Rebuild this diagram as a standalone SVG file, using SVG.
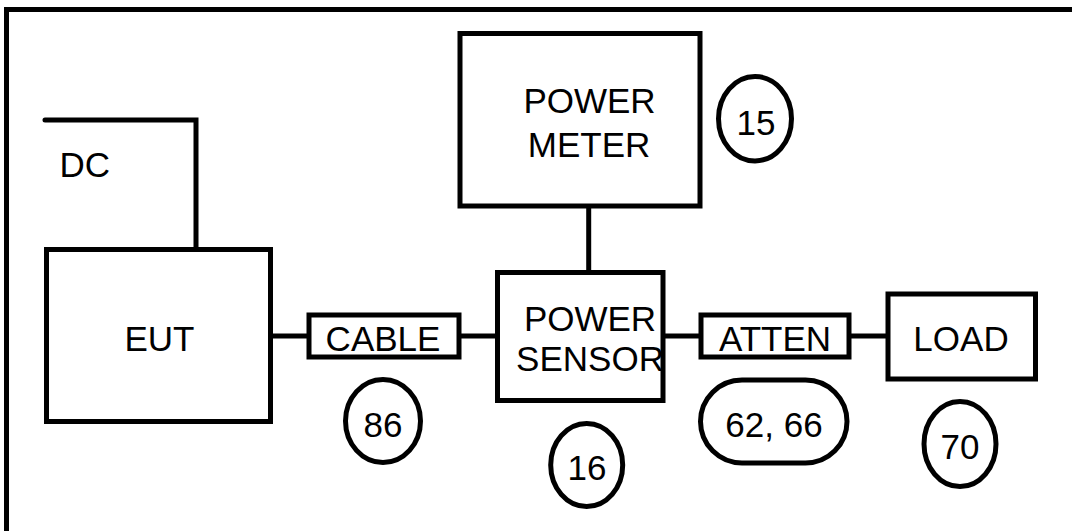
<svg xmlns="http://www.w3.org/2000/svg" width="1072" height="531" viewBox="0 0 1072 531">
<style>
.box{fill:#fff;stroke:#000;stroke-width:5}
.ln{fill:none;stroke:#000;stroke-width:5}
.t{font-family:"Liberation Sans",Arial,sans-serif;font-size:35px;fill:#000;text-anchor:middle}
</style>
<rect x="0" y="0" width="1072" height="531" fill="#fff"/>
<path class="ln" d="M6.5,540 V9.5 H1080"/>
<g id="connectors">
<path class="ln" stroke-linecap="round" d="M45,120 H196 V248"/>
<path class="ln" d="M273,336 H307"/>
<path class="ln" d="M461,336 H496"/>
<path class="ln" d="M588.7,207 V272"/>
<path class="ln" d="M664,336 H699"/>
<path class="ln" d="M851,336 H886"/>
</g>
<g id="dc"><text class="t" x="59.5" y="176.7" text-anchor="start" style="text-anchor:start">DC</text></g>
<g id="eut">
<rect class="box" x="46.5" y="249.5" width="224" height="172"/>
<text class="t" x="159.5" y="350.7">EUT</text>
</g>
<g id="cable">
<rect class="box" x="309" y="315" width="150" height="42"/>
<text class="t" x="383" y="350.7">CABLE</text>
</g>
<g id="power-meter">
<rect class="box" x="460" y="33.5" width="240" height="172.5"/>
<text class="t" x="589.5" y="113.3">POWER</text>
<text class="t" x="589" y="156.7">METER</text>
</g>
<g id="power-sensor">
<rect class="box" x="497.5" y="272.5" width="165.5" height="128"/>
<text class="t" x="590" y="330.7">POWER</text>
<text class="t" x="590" y="371">SENSOR</text>
</g>
<g id="atten">
<rect class="box" x="701" y="315" width="148" height="42"/>
<text class="t" x="775" y="350.7">ATTEN</text>
</g>
<g id="load">
<rect class="box" x="888" y="294" width="147.5" height="85"/>
<text class="t" x="961" y="350.7">LOAD</text>
</g>
<g id="ref-15">
<ellipse class="box" cx="755" cy="118.7" rx="36.5" ry="42.2"/>
<text class="t" x="756" y="135">15</text>
</g>
<g id="ref-86">
<ellipse class="box" cx="383" cy="421" rx="37.5" ry="41.5"/>
<text class="t" x="383" y="436.7">86</text>
</g>
<g id="ref-16">
<ellipse class="box" cx="586.7" cy="465" rx="36" ry="41.5"/>
<text class="t" x="587" y="480">16</text>
</g>
<g id="ref-62-66">
<rect class="box" x="700.5" y="380" width="146.5" height="83" rx="41.5" ry="41.5"/>
<text class="t" x="774" y="436.7">62, 66</text>
</g>
<g id="ref-70">
<ellipse class="box" cx="960" cy="444" rx="36" ry="42.5"/>
<text class="t" x="960" y="459.3">70</text>
</g>
</svg>
